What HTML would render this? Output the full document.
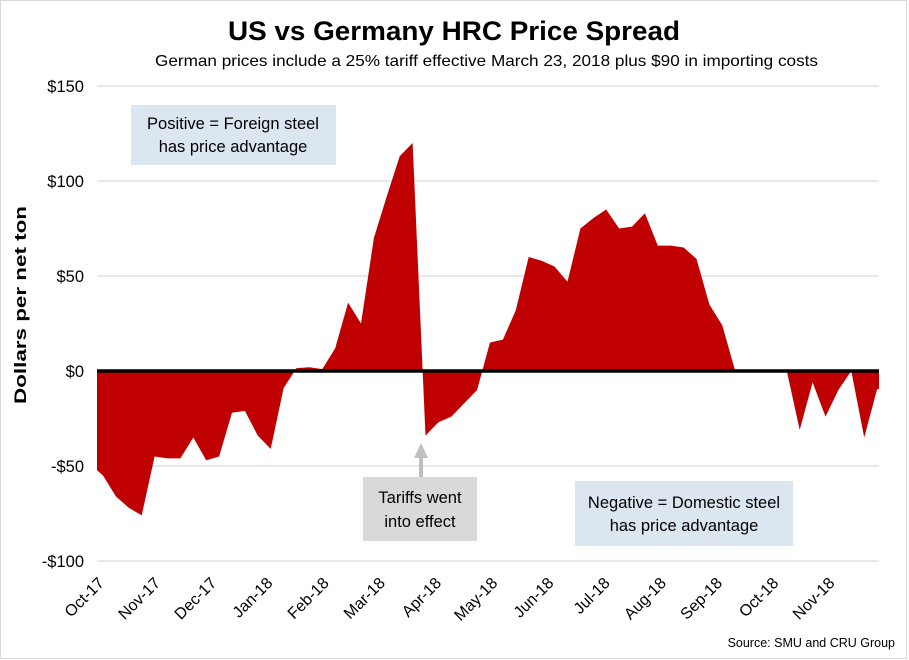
<!DOCTYPE html>
<html><head><meta charset="utf-8"><style>
html,body{margin:0;padding:0;background:#fff;}
svg{display:block;font-family:"Liberation Sans",Calibri,sans-serif;}
</style></head><body>
<svg id="chart" width="909" height="660" viewBox="0 0 909 660" xmlns="http://www.w3.org/2000/svg">
<rect x="0.5" y="0.5" width="906" height="658" fill="#fff" stroke="#d9d9d9"/>
<text x="228" y="40" textLength="452" lengthAdjust="spacingAndGlyphs" font-size="27" font-weight="bold" fill="#000">US vs Germany HRC Price Spread</text>
<text x="155" y="66" textLength="663" lengthAdjust="spacingAndGlyphs" font-size="16" fill="#000">German prices include a 25% tariff effective March 23, 2018 plus $90 in importing costs</text>
<g id="grid"></g>
<g id="yticks"></g>
<g id="xticks"></g>
<path id="area" fill="#c00000"/>
<line id="zero" stroke="#000" stroke-width="3.5"/>
<text transform="translate(26,305) rotate(-90)" text-anchor="middle" textLength="198" lengthAdjust="spacingAndGlyphs" font-size="17" font-weight="bold">Dollars per net ton</text>
<g>
<rect x="131" y="105" width="205" height="60" fill="#dce6f1"/>
<text x="233" y="129" text-anchor="middle" font-size="16.5">Positive = Foreign steel</text>
<text x="233" y="152" text-anchor="middle" font-size="16.5">has price advantage</text>
</g>
<g>
<line x1="421" y1="478" x2="421" y2="456" stroke="#bfbfbf" stroke-width="4"/>
<polygon points="414,458 428,458 421,443" fill="#bfbfbf"/>
<rect x="363" y="477" width="114" height="64" fill="#d9d9d9"/>
<text x="420" y="503" text-anchor="middle" font-size="16.5">Tariffs went</text>
<text x="420" y="527" text-anchor="middle" font-size="16.5">into effect</text>
</g>
<g>
<rect x="575" y="481" width="218" height="65" fill="#dce6f1"/>
<text x="684" y="508" text-anchor="middle" font-size="16.5">Negative = Domestic steel</text>
<text x="684" y="531" text-anchor="middle" font-size="16.5">has price advantage</text>
</g>
<text x="895" y="647" text-anchor="end" font-size="12.5">Source: SMU and CRU Group</text>
</svg>
<script>
const yTicks=[150,100,50,0,-50,-100];
const yTickLabels=["$150","$100","$50","$0","-$50","-$100"];
const monthLabels=["Oct-17","Nov-17","Dec-17","Jan-18","Feb-18","Mar-18","Apr-18","May-18","Jun-18","Jul-18","Aug-18","Sep-18","Oct-18","Nov-18"];
const spreadValues=[-55,-66,-72,-76,-45,-46,-46,-35,-47,-45,-22,-21,-34,-41,-9,1.5,2,1,12,36,25,70,92,113,120,-34,-27,-24,-17,-10,15,16.5,32,60,58,55,47,75,80.5,85,75,76,83,66,66,65,59,35,24,0,0,0.5,0.5,0,-31,-6,-24,-10,0,-35,-9.5];
const NS="http://www.w3.org/2000/svg";
const X0=97,X1=879;
function y(v){return 371-(v)*1.9;}
function x(i){return 103+i*(874-103)/(spreadValues.length-1)*1.004;}
function mk(t,a,p){const e=document.createElementNS(NS,t);for(const k in a)e.setAttribute(k,a[k]);p.appendChild(e);return e;}
const grid=document.getElementById('grid'),yt=document.getElementById('yticks'),xt=document.getElementById('xticks');
yTicks.forEach((v,k)=>{
 const l=mk('line',{x1:X0,x2:X1,y1:y(v),y2:y(v),stroke:'#d9d9d9','stroke-width':1.3},grid);
 
 
 const t=mk('text',{x:84,y:y(v)+6,'text-anchor':'end','font-size':16.5},yt);
 t.textContent=yTickLabels[k];
 
 
});
monthLabels.forEach((m,k)=>{
 const px=105+k*56.2;
 const t=mk('text',{transform:'translate('+px+',584) rotate(-45)','text-anchor':'end','font-size':16},xt);
 t.textContent=m;
 
 
});
let d='M'+X0+','+y(0)+' L'+X0+','+y(spreadValues[0]*0.95);
spreadValues.forEach((v,i)=>{d+=' L'+x(i).toFixed(1)+','+y(v).toFixed(1);});
d+=' L'+X1+','+y(spreadValues[spreadValues.length-1])+' L'+X1+','+y(0)+' Z';
document.getElementById('area').setAttribute('d',d);
const z=document.getElementById('zero');
z.setAttribute('x1',X0);z.setAttribute('x2',X1);z.setAttribute('y1',y(0));z.setAttribute('y2',y(0));
</script>
</body></html>
